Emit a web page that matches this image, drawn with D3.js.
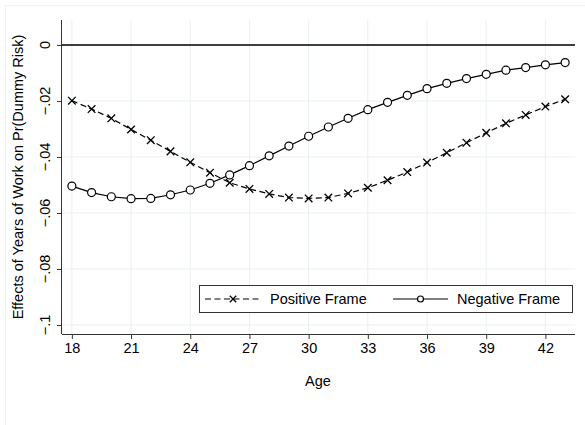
<!DOCTYPE html>
<html>
<head>
<meta charset="utf-8">
<script src="https://cdn.jsdelivr.net/npm/d3@7"></script>
<style>
  body { margin: 0; background: #fff; }
  text { font-family: "Liberation Sans", Arial, Helvetica, sans-serif; fill: #000; }
</style>
</head>
<body>
<div class="chart"></div>
<script>
var ages = [18, 19, 20, 21, 22, 23, 24, 25, 26, 27, 28, 29, 30, 31, 32, 33, 34, 35, 36, 37, 38, 39, 40, 41, 42, 43]
var positive = [-0.0199, -0.0229, -0.0262, -0.0302, -0.0340, -0.0380, -0.0419, -0.0456, -0.0492, -0.0514,
    -0.0532, -0.0545, -0.0548, -0.0545, -0.0530, -0.0510, -0.0483, -0.0454, -0.0420, -0.0385,
    -0.0349, -0.0314, -0.0280, -0.0250, -0.0220, -0.0194]
var negative = [-0.0504, -0.0527, -0.0542, -0.0549, -0.0548, -0.0535, -0.0518, -0.0494, -0.0464, -0.0431,
    -0.0396, -0.0361, -0.0326, -0.0293, -0.0262, -0.0231, -0.0205, -0.0180, -0.0156, -0.0137,
    -0.0120, -0.0105, -0.0090, -0.0081, -0.0071, -0.0063]
var xTicks = [18, 21, 24, 27, 30, 33, 36, 39, 42]
var yTicks = [0, -0.02, -0.04, -0.06, -0.08, -0.1]
var yTickLabels = ["0", "\u2212.02", "\u2212.04", "\u2212.06", "\u2212.08", "\u2212.1"]

var W = 585, H = 425
var pL = 62, pR = 575, pT = 20, pB = 334
var grid = '#e8f0f2'

var svg = d3.select('.chart')
    .append('svg')
    .attr('width', W)
    .attr('height', H)

// faint outer frame
svg.append('rect')
    .attr('x', 5.5).attr('y', 5.5)
    .attr('width', 620).attr('height', 440)
    .attr('fill', 'none')
    .attr('stroke', '#eef2f3')

var x = d3.scaleLinear().domain([17.5, 43.5]).range([pL, pR])
var y = d3.scaleLinear().domain([0.0089, -0.1032]).range([pT, pB])

// grid
svg.append('g').selectAll('line')
    .data(xTicks)
    .enter().append('line')
    .attr('x1', d => x(d)).attr('x2', d => x(d))
    .attr('y1', pT).attr('y2', pB)
    .attr('stroke', grid)
svg.append('g').selectAll('line')
    .data(yTicks)
    .enter().append('line')
    .attr('x1', pL).attr('x2', pR)
    .attr('y1', d => y(d)).attr('y2', d => y(d))
    .attr('stroke', grid)

// zero line
svg.append('line')
    .attr('x1', pL).attr('x2', pR)
    .attr('y1', y(0)).attr('y2', y(0))
    .attr('stroke', '#000')
    .attr('stroke-width', 1.5)

// axes
var xAxis = svg.append('g')
    .attr('transform', 'translate(0,' + pB + ')')
    .call(d3.axisBottom(x).tickValues(xTicks).tickSize(5).tickPadding(4))
xAxis.select('.domain').attr('stroke', '#333').attr('d', 'M' + pL + ',0.5H' + pR)
xAxis.selectAll('.tick line').attr('stroke', '#333')
xAxis.selectAll('.tick text')
    .attr('font-size', 14.5)
    .attr('font-family', '"Liberation Sans", Arial, sans-serif')
    .attr('fill', '#000')

var yAxis = svg.append('g')
    .attr('transform', 'translate(' + pL + ',0)')
    .call(d3.axisLeft(y).tickValues(yTicks).tickSize(5).tickFormat(''))
yAxis.select('.domain').attr('stroke', '#333').attr('d', 'M-0.5,' + pT + 'V' + pB)
yAxis.selectAll('.tick line').attr('stroke', '#333')

svg.append('g').selectAll('text')
    .data(yTicks)
    .enter().append('text')
    .attr('transform', (d, i) => 'translate(50,' + y(d) + ') rotate(-90)')
    .attr('text-anchor', 'middle')
    .attr('font-size', 14.5)
    .text((d, i) => yTickLabels[i])

// axis titles
svg.append('text')
    .attr('x', 318).attr('y', 385.5)
    .attr('text-anchor', 'middle')
    .attr('font-size', 14.5)
    .text('Age')
svg.append('text')
    .attr('transform', 'translate(22.5,177) rotate(-90)')
    .attr('text-anchor', 'middle')
    .attr('font-size', 14.5)
    .text('Effects of Years of Work on Pr(Dummy Risk)')

// series
var line = d3.line()
    .x((d, i) => x(ages[i]))
    .y(d => y(d))

svg.append('path')
    .datum(positive)
    .attr('d', line)
    .attr('fill', 'none')
    .attr('stroke', '#000')
    .attr('stroke-width', 1.2)
    .attr('stroke-dasharray', '6,3.5')

svg.append('path')
    .datum(negative)
    .attr('d', line)
    .attr('fill', 'none')
    .attr('stroke', '#000')
    .attr('stroke-width', 1.2)

function cross(sel, s) {
    sel.append('path')
        .attr('d', 'M' + (-s) + ',' + (-s) + 'L' + s + ',' + s + 'M' + (-s) + ',' + s + 'L' + s + ',' + (-s))
        .attr('stroke', '#000')
        .attr('stroke-width', 1.3)
}

svg.append('g').selectAll('g')
    .data(positive)
    .enter().append('g')
    .attr('transform', (d, i) => 'translate(' + x(ages[i]) + ',' + y(d) + ')')
    .call(cross, 3.8)

svg.append('g').selectAll('circle')
    .data(negative)
    .enter().append('circle')
    .attr('cx', (d, i) => x(ages[i]))
    .attr('cy', d => y(d))
    .attr('r', 4)
    .attr('fill', '#fff')
    .attr('stroke', '#000')
    .attr('stroke-width', 1.2)

// legend
var lg = svg.append('g')
lg.append('rect')
    .attr('x', 199.5).attr('y', 285.5)
    .attr('width', 373).attr('height', 27)
    .attr('fill', '#fff')
    .attr('stroke', '#333')
lg.append('line')
    .attr('x1', 205).attr('x2', 261).attr('y1', 299).attr('y2', 299)
    .attr('stroke', '#000').attr('stroke-width', 1.2)
    .attr('stroke-dasharray', '6,3.5')
lg.append('g')
    .attr('transform', 'translate(233,299)')
    .call(cross, 3.2)
lg.append('text')
    .attr('x', 270).attr('y', 304.3)
    .attr('font-size', 14.5)
    .text('Positive Frame')
lg.append('line')
    .attr('x1', 393).attr('x2', 448).attr('y1', 299).attr('y2', 299)
    .attr('stroke', '#000').attr('stroke-width', 1.2)
lg.append('circle')
    .attr('cx', 420.5).attr('cy', 299).attr('r', 3)
    .attr('fill', '#fff').attr('stroke', '#000').attr('stroke-width', 1.2)
lg.append('text')
    .attr('x', 457).attr('y', 304.3)
    .attr('font-size', 14.5)
    .text('Negative Frame')
</script>
</body>
</html>
